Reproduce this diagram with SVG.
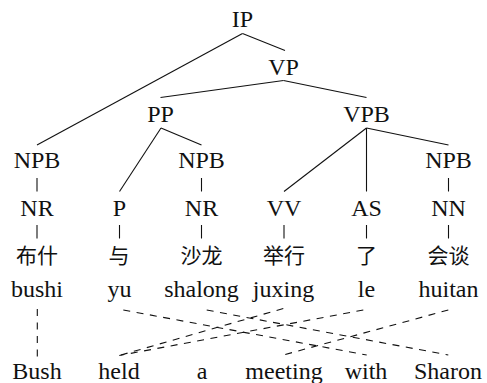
<svg xmlns="http://www.w3.org/2000/svg" width="487" height="383" viewBox="0 0 487 383">
<style>
.t{font-family:'Liberation Serif','Times New Roman',serif;font-size:24px;fill:#111;text-anchor:middle}
.c{font-family:'Noto Sans CJK SC','Noto Sans CJK JP',sans-serif;font-size:21px;fill:#111;text-anchor:middle}
.e line{stroke:#111;stroke-width:1.1;fill:none}
.a line{stroke:#111;stroke-width:1.1;stroke-dasharray:7 6.5;fill:none}
</style>
<rect width="487" height="383" fill="#fff"/>
<g id="connectors">
<g class="e">
<line x1="242.5" y1="33.5" x2="285" y2="50.5"/>
<line x1="242.5" y1="33.5" x2="37" y2="145"/>
<line x1="283.5" y1="80.5" x2="160.5" y2="97.5"/>
<line x1="283.5" y1="80.5" x2="366.5" y2="97.5"/>
<line x1="161" y1="128" x2="119.5" y2="191.5"/>
<line x1="161" y1="128" x2="201.5" y2="145"/>
<line x1="366.5" y1="128" x2="284" y2="191.5"/>
<line x1="366.5" y1="128" x2="366.5" y2="191.5"/>
<line x1="366.5" y1="128" x2="448.5" y2="145"/>
<line x1="37" y1="178" x2="37" y2="191.5"/>
<line x1="201.5" y1="178" x2="201.5" y2="191.5"/>
<line x1="448.5" y1="178" x2="448.5" y2="191.5"/>
<line x1="37" y1="225" x2="37" y2="238.5"/>
<line x1="119.5" y1="225" x2="119.5" y2="238.5"/>
<line x1="201.5" y1="225" x2="201.5" y2="238.5"/>
<line x1="284" y1="225" x2="284" y2="238.5"/>
<line x1="366.5" y1="225" x2="366.5" y2="238.5"/>
<line x1="448.5" y1="225" x2="448.5" y2="238.5"/>
</g>
<g class="a">
<line x1="37.3" y1="309" x2="37.3" y2="357"/>
<line x1="123.3" y1="310" x2="366.7" y2="355"/>
<line x1="206.7" y1="310" x2="448.3" y2="355"/>
<line x1="283.3" y1="308.5" x2="119.3" y2="355.5"/>
<line x1="363.3" y1="310" x2="119.3" y2="355.5"/>
<line x1="448.3" y1="310" x2="283.3" y2="355"/>
</g>
</g>
<g id="IP"><text class="t" x="242.5" y="27.3">IP</text></g>
<g id="VP"><text class="t" x="283.5" y="75">VP</text></g>
<g id="PP"><text class="t" x="160.5" y="121.7">PP</text></g>
<g id="VPB"><text class="t" x="366.5" y="121.7">VPB</text></g>
<g id="NPB1"><text class="t" x="37" y="168.3">NPB</text></g>
<g id="NPB2"><text class="t" x="201.5" y="168.3">NPB</text></g>
<g id="NPB3"><text class="t" x="448.5" y="168.3">NPB</text></g>
<g id="NR1"><text class="t" x="37" y="216">NR</text></g>
<g id="P"><text class="t" x="119.5" y="216">P</text></g>
<g id="NR2"><text class="t" x="201.5" y="216">NR</text></g>
<g id="VV"><text class="t" x="284" y="216">VV</text></g>
<g id="AS"><text class="t" x="366.5" y="216">AS</text></g>
<g id="NN"><text class="t" x="448.5" y="216">NN</text></g>
<g id="w1"><text class="c" x="37" y="263">布什</text></g>
<g id="w2"><text class="c" x="119" y="263">与</text></g>
<g id="w3"><text class="c" x="201.5" y="263">沙龙</text></g>
<g id="w4"><text class="c" x="284" y="263">举行</text></g>
<g id="w5"><text class="c" x="366.5" y="263">了</text></g>
<g id="w6"><text class="c" x="448.5" y="263">会谈</text></g>
<g id="r1"><text class="t" x="37" y="296.5">bushi</text></g>
<g id="r2"><text class="t" x="119.5" y="296.5">yu</text></g>
<g id="r3"><text class="t" x="201.5" y="296.5">shalong</text></g>
<g id="r4"><text class="t" x="283.5" y="296.5">juxing</text></g>
<g id="r5"><text class="t" x="366.5" y="296.5">le</text></g>
<g id="r6"><text class="t" x="448.5" y="296.5">huitan</text></g>
<g id="e1"><text class="t" x="37" y="378.5">Bush</text></g>
<g id="e2"><text class="t" x="119" y="378.5">held</text></g>
<g id="e3"><text class="t" x="202" y="378.5">a</text></g>
<g id="e4"><text class="t" x="284" y="378.5">meeting</text></g>
<g id="e5"><text class="t" x="366" y="378.5">with</text></g>
<g id="e6"><text class="t" x="448" y="378.5">Sharon</text></g>
</svg>
